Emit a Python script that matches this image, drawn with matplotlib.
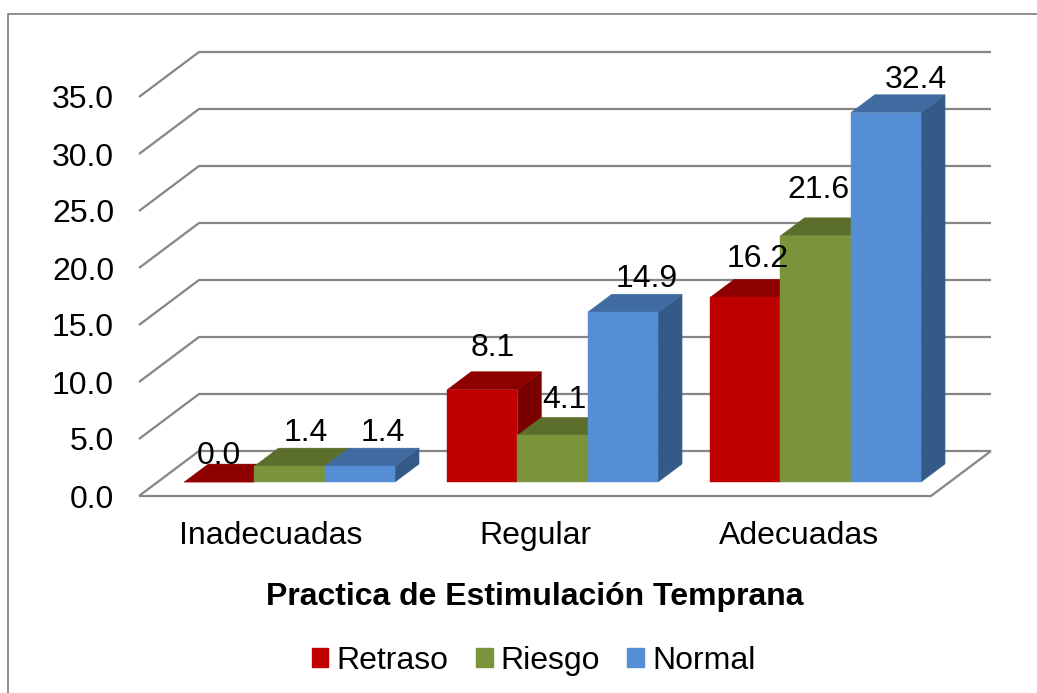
import matplotlib
matplotlib.use("Agg")
import matplotlib.pyplot as plt
from matplotlib.patches import Polygon, Patch
from matplotlib.lines import Line2D

categories = ["Inadecuadas", "Regular", "Adecuadas"]
series_names = ["Retraso", "Riesgo", "Normal"]
retraso = [0.0, 8.1, 16.2]
riesgo = [1.4, 4.1, 21.6]
normal = [1.4, 14.9, 32.4]
y_ticks = [0, 5, 10, 15, 20, 25, 30, 35]

series = [retraso, riesgo, normal]
front_colors = ["#C00000", "#7A943B", "#558ED5"]
top_colors = ["#8E0000", "#5B6E2C", "#3F6BA0"]
side_colors = ["#7A0000", "#4E5F26", "#345A88"]
# label nudges in pixels, relative to the top front edge centre of each bar
label_dx = [[0, 10, 12], [16, 12, 3], [23, 24, 30]]
label_dy = [[26, 42, 38], [33, 35, 46], [33, 33, 33]]

W, H = 1037, 693
plt.rcParams["font.family"] = ["Liberation Sans", "DejaVu Sans"]
FS = 23
GRID = "#868686"

fig = plt.figure(figsize=(W / 100, H / 100), dpi=100, facecolor="white")
L, R, T, B = 139, 931, 97, 496
ax = fig.add_axes([L / W, 1 - B / H, (R - L) / W, (B - T) / H])
ax.set_xlim(-0.5, 2.5)
ax.set_ylim(0, 35)
ax.patch.set_visible(False)
for s in ax.spines.values():
    s.set_visible(False)

px_x = (R - L) / 3
px_y = (B - T) / 35
DX = 60 / px_x      # full depth of the chart box, in category units
DY = 45 / px_y      # same, in value units
BAR_W = 70.3 / px_x
SPACING = 263 / px_x
D0, D1 = 0.31, 0.71  # depth span of the bars


def proj(x, y, d):
    return (x + d * DX, y + d * DY)


# walls and floor
for v in y_ticks:
    pts = [proj(-0.5, v, 0), proj(-0.5, v, 1), proj(2.5, v, 1)]
    ax.plot(*zip(*pts), color=GRID, lw=1.6, clip_on=False, zorder=1,
            solid_joinstyle="miter", solid_capstyle="butt")
pts = [proj(-0.5, 0, 0), proj(2.5, 0, 0), proj(2.5, 0, 1)]
ax.plot(*zip(*pts), color=GRID, lw=1.6, clip_on=False, zorder=1,
        solid_joinstyle="miter", solid_capstyle="butt")

# bars: painted left to right so each front face covers its left neighbour's side
z = 2
for c in range(len(categories)):
    for i, vals in enumerate(series):
        v = vals[c]
        x0 = c * SPACING - 1.5 * BAR_W + i * BAR_W
        x1 = x0 + BAR_W
        faces = [
            ([proj(x1, 0, D0), proj(x1, 0, D1), proj(x1, v, D1), proj(x1, v, D0)], side_colors[i]),
            ([proj(x0, v, D0), proj(x1, v, D0), proj(x1, v, D1), proj(x0, v, D1)], top_colors[i]),
            ([proj(x0, 0, D0), proj(x1, 0, D0), proj(x1, v, D0), proj(x0, v, D0)], front_colors[i]),
        ]
        for pts, col in faces:
            ax.add_patch(Polygon(pts, closed=True, facecolor=col, edgecolor=col,
                                 lw=0.3, clip_on=False, zorder=z))
            z += 1

# data labels
for c in range(len(categories)):
    for i, vals in enumerate(series):
        v = vals[c]
        xc = c * SPACING - BAR_W + i * BAR_W
        ax.annotate(f"{v:.1f}", xy=proj(xc, v, D0),
                    xytext=(label_dx[i][c] * 0.72, label_dy[i][c] * 0.72),
                    textcoords="offset points", ha="center", va="center",
                    fontsize=FS, color="black", zorder=200, annotation_clip=False)

ax.set_yticks(y_ticks)
ax.set_yticklabels([f"{v:.1f}" for v in y_ticks], fontsize=FS)
ax.set_xticks(range(len(categories)))
ax.set_xticklabels(categories, fontsize=FS)
ax.tick_params(axis="y", length=0, pad=18)
ax.tick_params(axis="x", length=0, pad=18)
ax.set_xlabel("Practica de Estimulación Temprana", fontsize=FS, fontweight="bold", labelpad=22)

handles = [Patch(facecolor=c, edgecolor=c, label=n) for c, n in zip(front_colors, series_names)]
fig.legend(handles=handles, loc="center", bbox_to_anchor=(533.5 / W, 1 - 661 / H), ncol=3,
           frameon=False, fontsize=FS, handlelength=0.53, handleheight=0.53,
           handletextpad=0.25, columnspacing=0.85, borderpad=0)

# chart frame (left and top edges visible in the crop)
fig.add_artist(Line2D([8 / W, 8 / W, 1], [0, 1 - 14 / H, 1 - 14 / H], color=GRID, lw=1.3,
                      transform=fig.transFigure, solid_joinstyle="miter"))

fig.savefig("out.png", dpi=100)
